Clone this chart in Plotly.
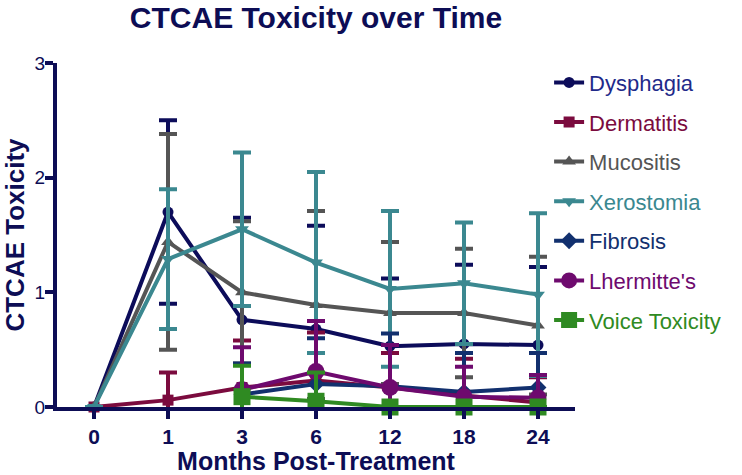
import plotly.graph_objects as go

months = ["0", "1", "3", "6", "12", "18", "24"]

dysphagia = [0, 1.70, 0.76, 0.68, 0.53, 0.55, 0.54]
dysphagia_err = [0, 0.80, 0.89, 0.90, 0.59, 0.69, 0.68]

dermatitis = [0, 0.06, 0.17, 0.23, 0.17, 0.10, 0.04]
dermatitis_err = [0, 0.24, 0.41, 0.42, 0.30, 0.32, 0.22]

mucositis = [0, 1.44, 1.00, 0.89, 0.82, 0.82, 0.71]
mucositis_err = [0, 0.94, 0.62, 0.82, 0.62, 0.56, 0.60]

xerostomia = [0, 1.29, 1.55, 1.26, 1.03, 1.08, 0.98]
xerostomia_err = [0, 0.61, 0.67, 0.79, 0.68, 0.53, 0.71]

fibrosis = [None, None, 0.11, 0.20, 0.18, 0.13, 0.17]
fibrosis_err = [0, 0, 0.27, 0.40, 0.46, 0.34, 0.30]

lhermitte = [None, None, 0.15, 0.31, 0.17, 0.09, 0.08]
lhermitte_err = [0, 0, 0.37, 0.44, 0.37, 0.26, 0.20]

voice = [None, None, 0.09, 0.05, 0.0, 0.0, 0.0]
voice_err = [0, 0, 0.27, 0.25, 0.0, 0.0, 0.0]

AX = "#0d0d55"
FONT = "Arial, Liberation Sans"

series = [
    ("Dysphagia", dysphagia, dysphagia_err, "#0c0c5a", "#1f2a8a", "circle", 11),
    ("Dermatitis", dermatitis, dermatitis_err, "#7b0b3e", "#7b0b3e", "square", 11),
    ("Mucositis", mucositis, mucositis_err, "#555555", "#555555", "triangle-up", 12),
    ("Xerostomia", xerostomia, xerostomia_err, "#3b8890", "#3b8890", "triangle-down", 12),
    ("Fibrosis", fibrosis, fibrosis_err, "#12306e", "#12306e", "diamond", 13),
    ("Lhermitte's", lhermitte, lhermitte_err, "#6e0a6e", "#6e0a6e", "circle", 17),
    ("Voice Toxicity", voice, voice_err, "#2f8a22", "#2f8a22", "square", 17),
]

fig = go.Figure()
for i, (name, vals, err, col, tcol, sym, sz) in enumerate(series):
    fig.add_trace(go.Scatter(
        x=months, y=vals, mode="lines+markers",
        name="<span style='color:%s'>%s</span>" % (tcol, name),
        legendgroup="g%d" % i,
        line=dict(color=col, width=4),
        marker=dict(symbol=sym, size=sz, color=col),
        error_y=dict(type="data", array=err, visible=True,
                     color=col, thickness=4, width=9),
        cliponaxis=False,
    ))

fig.update_layout(
    width=742, height=475,
    margin=dict(l=57, r=167, t=63, b=68, autoexpand=False),
    plot_bgcolor="white", paper_bgcolor="white",
    font=dict(family=FONT, color=AX),
    title=dict(text="<b>CTCAE Toxicity over Time</b>", x=316 / 742, xanchor="center",
               y=1 - 17 / 475, yanchor="middle", font=dict(size=30, color=AX)),
    showlegend=True,
    legend=dict(x=0.95, y=1.004, xanchor="left", yanchor="top",
                font=dict(size=22), itemwidth=30, tracegroupgap=8,
                traceorder="grouped", bgcolor="rgba(0,0,0,0)", maxheight=420),
)
fig.update_xaxes(
    type="category", range=[-0.5, 6.5], showgrid=False, zeroline=False,
    showline=True, linecolor=AX, linewidth=4, automargin=False,
    ticks="outside", ticklen=8, tickwidth=4, tickcolor=AX,
    tickfont=dict(size=21, color=AX),
    tickprefix="<b>", ticksuffix="</b>",
    title=dict(text="<b>Months Post-Treatment</b>", font=dict(size=25, color=AX), standoff=0),
)
fig.update_yaxes(
    range=[0, 3], showgrid=False, zeroline=False,
    showline=True, linecolor=AX, linewidth=4, automargin=False,
    ticks="outside", ticklen=8, tickwidth=4, tickcolor=AX,
    tickvals=[0, 1, 2, 3], ticklabelstandoff=-4,
    tickfont=dict(size=19, color=AX),
    tickprefix="<b>", ticksuffix="</b>",
    title=dict(text="<b>CTCAE Toxicity</b>", font=dict(size=26, color=AX), standoff=4),
)

# page body margin would shift the chart by 8px
fig.write_html("out.html", config={"displayModeBar": False},
               post_script="document.body.style.margin='0';")
